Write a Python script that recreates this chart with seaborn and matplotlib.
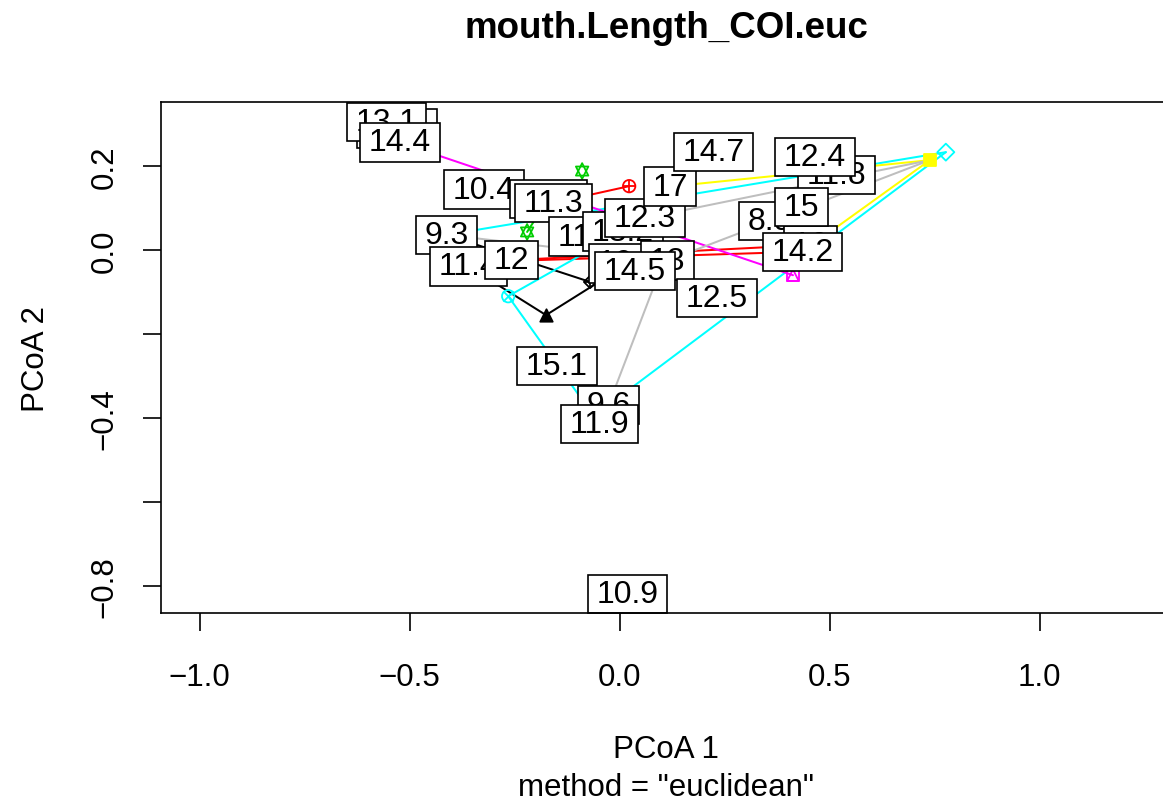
import numpy as np
import pandas as pd
import matplotlib
matplotlib.use("Agg")
import matplotlib.pyplot as plt
from matplotlib.path import Path
import seaborn as sns

# ---- site scores (PCoA axes 1 and 2) and their labels ----
site_labels = ["12.9", "13.1", "14.4", "10.4", "11.1", "11.3", "9.3", "11.4", "12",
               "11.7", "13.2", "12.3", "17", "14.7", "11.8", "12.4", "8.9", "16",
               "15", "14.2", "10.8", "13", "14.5", "12.5", "15.1", "9.6", "11.9", "10.9"]
site_x = [-0.530, -0.555, -0.523, -0.323, -0.170, -0.158, -0.412, -0.360, -0.257,
          -0.077, 0.008, 0.061, 0.120, 0.224, 0.517, 0.465, 0.358, 0.454,
          0.434, 0.436, 0.021, 0.115, 0.037, 0.232, -0.149, -0.026, -0.048, 0.019]
site_y = [0.289, 0.304, 0.256, 0.144, 0.121, 0.112, 0.036, -0.039, -0.024,
          0.032, 0.044, 0.076, 0.151, 0.233, 0.179, 0.221, 0.069, 0.012,
          0.102, -0.004, -0.032, -0.025, -0.050, -0.115, -0.277, -0.369, -0.414, -0.819]

# ---- group centres (spider hubs) ----
centre_id = ["g17", "g9", "g10", "g18", "g11a", "g11b", "g13", "g5", "g14", "g15", "g16", "g8"]
centre_x = [-0.175, -0.070, 0.023, -0.351, -0.089, -0.220, -0.265, 0.777, 0.413, 0.739, 0.739, 0.106]
centre_y = [-0.155, -0.076, 0.152, -0.029, 0.188, 0.043, -0.110, 0.233, -0.060, 0.214, 0.214, -0.024]
centre_col = ["black", "black", "red", "red", "green3", "green3", "cyan", "cyan",
              "magenta", "yellow", "gray", "gray"]
centre_pch = [17, 9, 10, 18, 11, 11, 13, 5, 14, 15, 16, 8]

# ---- spider legs: centre -> site ----
leg_centre = ["g17", "g17", "g9", "g10", "g18", "g18", "g11b", "g13", "g13",
              "g5", "g5", "g14", "g15", "g15", "g16", "g16", "g8", "g8"]
leg_site = ["11.4", "10.8", "9.3", "11.3", "14.2", "16", "11.1", "11.9", "13.2",
            "9.3", "9.6", "14.4", "17", "14.2", "13", "12.3", "9.6", "9.3"]

r_colours = {"black": "#000000", "red": "#FF0000", "green3": "#00CD00",
             "cyan": "#00FFFF", "magenta": "#FF00FF", "yellow": "#FFFF00",
             "gray": "#BEBEBE"}

sns.set_style("white")
plt.rcParams["font.family"] = ["Liberation Sans", "DejaVu Sans"]
plt.rcParams["axes.unicode_minus"] = True
plt.rcParams["text.color"] = "black"
plt.rcParams["axes.labelcolor"] = "black"
plt.rcParams["axes.edgecolor"] = "black"
plt.rcParams["xtick.color"] = "black"
plt.rcParams["ytick.color"] = "black"

W, H = 1163, 804
fig = plt.figure(figsize=(W / 100, H / 100), dpi=100)
ax = fig.add_axes([161 / W, 1 - 614 / H, 1010 / W, 511 / H])
ax.set_xlim(-1.0917, 1.3131)
ax.set_ylim(-0.8643, 0.3524)

# spider legs as a long table, one unit per leg
sites = pd.DataFrame({"label": site_labels, "x": site_x, "y": site_y}).set_index("label")
centres = pd.DataFrame({"id": centre_id, "x": centre_x, "y": centre_y,
                        "col": centre_col, "pch": centre_pch}).set_index("id")
rows = []
for i, (c, s) in enumerate(zip(leg_centre, leg_site)):
    rows.append({"leg": i, "x": centres.loc[c, "x"], "y": centres.loc[c, "y"],
                 "col": centres.loc[c, "col"]})
    rows.append({"leg": i, "x": sites.loc[s, "x"], "y": sites.loc[s, "y"],
                 "col": centres.loc[c, "col"]})
legs = pd.DataFrame(rows)
sns.lineplot(data=legs, x="x", y="y", units="leg", hue="col", palette=r_colours,
             estimator=None, sort=False, legend=False, linewidth=1.45, ax=ax, zorder=2)


def draw_pch(x, y, pch, colname):
    c = r_colours[colname]
    kw = dict(zorder=3, linewidths=1.3)
    if pch == 17:
        ax.scatter([x], [y], marker="^", s=80, color=c, edgecolors=c, **kw)
    elif pch == 9:
        ax.scatter([x], [y], marker="D", s=40, facecolors="none", edgecolors=c, **kw)
        ax.scatter([x], [y], marker="+", s=70, color=c, **kw)
    elif pch == 10:
        ax.scatter([x], [y], marker="o", s=80, facecolors="none", edgecolors=c, **kw)
        ax.scatter([x], [y], marker="+", s=80, color=c, **kw)
    elif pch == 18:
        ax.scatter([x], [y], marker="D", s=40, color=c, edgecolors=c, **kw)
    elif pch == 11:
        ax.scatter([x], [y + 0.004], marker="^", s=80, facecolors="none", edgecolors=c, **kw)
        ax.scatter([x], [y - 0.004], marker="v", s=80, facecolors="none", edgecolors=c, **kw)
    elif pch == 13:
        ax.scatter([x], [y], marker="o", s=80, facecolors="none", edgecolors=c, **kw)
        ax.scatter([x], [y], marker="x", s=55, color=c, **kw)
    elif pch == 5:
        ax.scatter([x], [y], marker="D", s=75, facecolors="none", edgecolors=c, **kw)
    elif pch == 14:
        ax.scatter([x], [y], marker="s", s=70, facecolors="none", edgecolors=c, **kw)
        ax.scatter([x], [y], marker="^", s=70, facecolors="none", edgecolors=c, **kw)
    elif pch == 15:
        ax.scatter([x], [y], marker="s", s=75, color=c, edgecolors=c, **kw)
    elif pch == 16:
        ax.scatter([x], [y], marker="o", s=40, color=c, edgecolors=c, zorder=2.9, linewidths=1.1)
    elif pch == 8:
        ax.scatter([x], [y], marker="+", s=70, color=c, **kw)
        ax.scatter([x], [y], marker="x", s=50, color=c, **kw)


for cid, r in centres.iterrows():
    draw_pch(r["x"], r["y"], r["pch"], r["col"])


def label_box(x0, y0, width, height, mutation_size):
    px = 0.27 * mutation_size
    py = 0.13 * mutation_size
    xa, ya = x0 - px, y0 - py
    xb, yb = x0 + width + px, y0 + height + py
    return Path([(xa, ya), (xb, ya), (xb, yb), (xa, yb), (xa, ya)], closed=True)


for k, (lab, x, y) in enumerate(zip(site_labels, site_x, site_y)):
    ax.text(x, y, lab, ha="center", va="center", fontsize=23, color="black",
            zorder=5 + k * 0.01, clip_on=False,
            bbox=dict(boxstyle=label_box, facecolor="white", edgecolor="black",
                      linewidth=1.2))

# axes frame and ticks in base-graphics style
for side in ["top", "left", "bottom", "right"]:
    ax.spines[side].set_linewidth(1.2)
    ax.spines[side].set_color("black")
    ax.spines[side].set_zorder(10)

xt = [-1.0, -0.5, 0.0, 0.5, 1.0]
yt = [-0.8, -0.6, -0.4, -0.2, 0.0, 0.2]
xt_lab = ["\u22121.0", "\u22120.5", "0.0", "0.5", "1.0"]
yt_lab = ["\u22120.8", "", "\u22120.4", "", "0.0", "0.2"]
ax.set_xticks(xt)
ax.set_xticklabels(xt_lab)
ax.set_yticks(yt)
ax.set_yticklabels(yt_lab, rotation=90, va="center")
ax.tick_params(axis="both", which="major", bottom=True, left=True, top=False, right=False,
               direction="out", length=13, width=1.2, color="black",
               labelsize=22.5, labelcolor="black")
ax.tick_params(axis="x", pad=22)
ax.tick_params(axis="y", pad=17)

ax.set_xlabel("PCoA 1", fontsize=22.5, color="black")
ax.xaxis.set_label_coords(0.5, -0.266)
ax.xaxis.label.set_va("center")
ax.set_ylabel("PCoA 2", fontsize=22.5, color="black")
ax.yaxis.set_label_coords(-0.124, 0.5)
ax.yaxis.label.set_va("center")
ax.text(0.5, -0.341, 'method = "euclidean"', transform=ax.transAxes, ha="center",
        va="center", fontsize=22.5, color="black", clip_on=False)

fig.text(0.5 * (161 + 1171) / W, 1 - 28 / H, "mouth.Length_COI.euc", ha="center",
         va="center", fontsize=26.5, fontweight="bold", color="black")

fig.savefig("out.png", dpi=100)
